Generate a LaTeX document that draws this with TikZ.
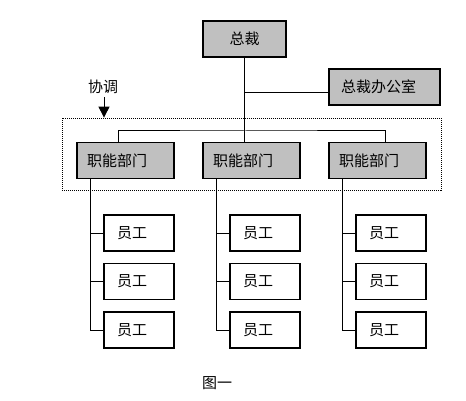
\documentclass[tikz,border=0pt]{standalone}
\usepackage{fontspec}
\newfontfamily\cjk{Noto Sans CJK SC}
\usetikzlibrary{arrows.meta}
\definecolor{boxgray}{RGB}{192,192,192}
\begin{document}
\begin{tikzpicture}[x=1pt,y=-1pt,
  font=\cjk\fontsize{15}{17}\selectfont,
  box/.style={draw, line width=1.2pt, inner sep=0pt, minimum height=36pt},
  greybox/.style={box, fill=boxgray},
  dept/.style={greybox, minimum width=97pt, text width=77pt, align=left},
  staff/.style={box, minimum width=70pt, text width=44pt, align=left},
  conn/.style={line width=1pt}]
\useasboundingbox (0,0) rectangle (466,401);
\fill[white] (0,0) rectangle (466,401);

\node[greybox, minimum width=83pt] (pres) at (244.5,39) {总裁};
\node[greybox, minimum width=111pt, text width=87pt, align=left] (office) at (384.5,87) {总裁办公室};

\node[draw, dash pattern=on 1pt off 1pt, line width=0.8pt, minimum width=379pt, minimum height=72pt, inner sep=0pt] (group) at (251.5,154) {};

\node[dept] (d1) at (125.5,160.5) {职能部门};
\node[dept] (d2) at (251.5,160.5) {职能部门};
\node[dept] (d3) at (377.5,160.5) {职能部门};

\foreach \c/\x in {1/139,2/265,3/391}{
  \node[staff] (e\c1) at (\x,233) {员工};
  \node[staff] (e\c2) at (\x,281.5) {员工};
  \node[staff] (e\c3) at (\x,330) {员工};
}

\node (coordlabel) at (103,87) {协调};
\node (cap) at (217,383) {图一};

% connectors
\coordinate (bar) at (245,131);
\draw[conn] (pres.south) -- (pres.south |- d2.north);
\draw[conn] ([yshift=-6pt]office.west) -- ([yshift=-6pt]office.west -| pres.south);
\draw[conn] ([xshift=-7.5pt]d1.north) |- (bar) -| ([xshift=7.5pt]d3.north);
\draw[-{Triangle[width=11pt,length=11pt]}, line width=1pt] ([xshift=1pt]coordlabel.south) -- ([xshift=1pt]coordlabel.south |- group.north);

\foreach \c in {1,2,3}{
  \coordinate (t\c) at ([xshift=-35.5pt]d\c.south);
  \draw[conn] (t\c) |- (e\c3.west);
  \draw[conn] (t\c |- e\c1.west) -- (e\c1.west);
  \draw[conn] (t\c |- e\c2.west) -- (e\c2.west);
}
\end{tikzpicture}
\end{document}
